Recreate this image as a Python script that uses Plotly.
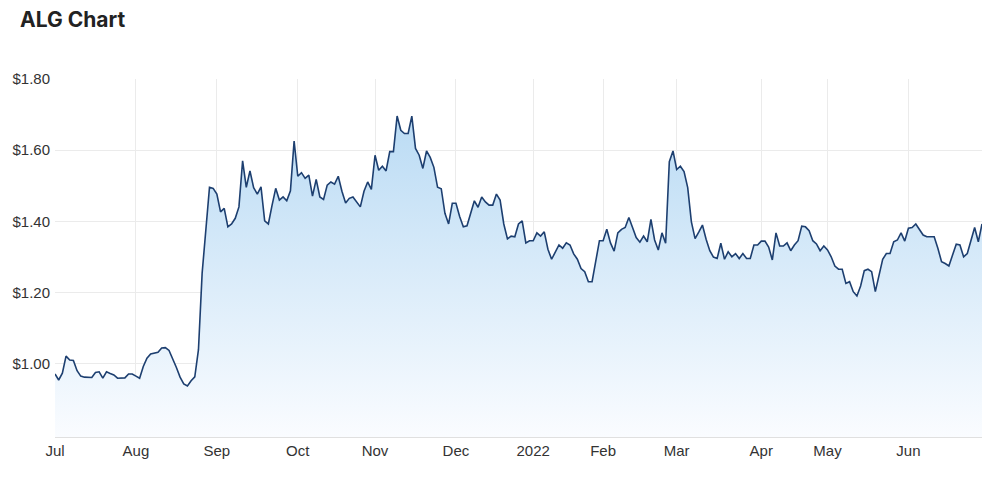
import plotly.graph_objects as go

# Month labels and number of trading days in each month (Jul 2021 - Jun 2022)
month_labels = ["Jul", "Aug", "Sep", "Oct", "Nov", "Dec", "2022", "Feb", "Mar", "Apr", "May", "Jun"]
month_days = [22, 22, 22, 21, 22, 21, 19, 20, 23, 18, 22, 21]

# Daily closing prices (AUD)
prices = [
    0.972, 0.955, 0.974, 1.022, 1.011, 1.010, 0.981, 0.966, 0.963, 0.963,
    0.962, 0.976, 0.978, 0.960, 0.978, 0.973, 0.969, 0.960, 0.960, 0.961,
    0.972, 0.972, 0.966, 0.960, 0.993, 1.016, 1.028, 1.031, 1.033, 1.045,
    1.046, 1.038, 1.015, 0.990, 0.963, 0.944, 0.938, 0.953, 0.964, 1.040,
    1.255, 1.380, 1.496, 1.493, 1.477, 1.427, 1.437, 1.385, 1.393, 1.409,
    1.441, 1.570, 1.496, 1.542, 1.495, 1.477, 1.497, 1.402, 1.393, 1.445,
    1.493, 1.460, 1.469, 1.458, 1.486, 1.626, 1.527, 1.537, 1.521, 1.530,
    1.471, 1.518, 1.469, 1.462, 1.502, 1.511, 1.505, 1.527, 1.485, 1.452,
    1.465, 1.469, 1.455, 1.441, 1.485, 1.511, 1.490, 1.586, 1.544, 1.555,
    1.542, 1.596, 1.596, 1.696, 1.656, 1.647, 1.647, 1.696, 1.605, 1.586,
    1.549, 1.598, 1.580, 1.552, 1.496, 1.492, 1.423, 1.393, 1.451, 1.451,
    1.414, 1.385, 1.388, 1.421, 1.458, 1.440, 1.469, 1.455, 1.446, 1.446,
    1.477, 1.460, 1.393, 1.351, 1.359, 1.357, 1.393, 1.402, 1.340, 1.346,
    1.346, 1.368, 1.359, 1.371, 1.322, 1.294, 1.315, 1.334, 1.325, 1.340,
    1.334, 1.309, 1.294, 1.268, 1.259, 1.231, 1.231, 1.290, 1.346, 1.346,
    1.378, 1.340, 1.317, 1.368, 1.378, 1.383, 1.411, 1.383, 1.355, 1.342,
    1.359, 1.343, 1.406, 1.348, 1.320, 1.368, 1.339, 1.568, 1.598, 1.546,
    1.555, 1.540, 1.495, 1.399, 1.352, 1.370, 1.390, 1.350, 1.318, 1.300,
    1.296, 1.339, 1.294, 1.315, 1.301, 1.310, 1.296, 1.310, 1.296, 1.296,
    1.334, 1.334, 1.345, 1.345, 1.328, 1.292, 1.368, 1.331, 1.331, 1.340,
    1.318, 1.334, 1.346, 1.387, 1.385, 1.374, 1.346, 1.337, 1.318, 1.331,
    1.320, 1.301, 1.275, 1.266, 1.266, 1.226, 1.231, 1.203, 1.191, 1.219,
    1.262, 1.266, 1.259, 1.203, 1.245, 1.294, 1.310, 1.310, 1.343, 1.348,
    1.368, 1.345, 1.381, 1.383, 1.393, 1.378, 1.362, 1.357, 1.357, 1.357,
    1.325, 1.287, 1.282, 1.275, 1.306, 1.336, 1.334, 1.301, 1.310, 1.343,
    1.383, 1.343, 1.393,
]

y_ticks = [1.00, 1.20, 1.40, 1.60, 1.80]
y_tick_labels = ["$1.00", "$1.20", "$1.40", "$1.60", "$1.80"]

x_idx = list(range(len(prices)))
tick_pos = []
acc = 0
for d in month_days:
    tick_pos.append(acc)
    acc += d

fig = go.Figure()
fig.add_trace(go.Scatter(
    x=x_idx, y=prices, mode="lines",
    line=dict(color="#1d3f70", width=1.6),
    fill="tozeroy",
    fillgradient=dict(type="vertical", start=0.795, stop=1.70,
                      colorscale=[[0, "rgba(250,252,255,1)"], [1, "rgba(186,219,244,1)"]]),
    hoverinfo="skip", showlegend=False,
))

fig.update_layout(
    width=1000, height=477,
    margin=dict(l=55, r=18, t=79, b=40),
    paper_bgcolor="white", plot_bgcolor="white",
    title=dict(text="ALG Chart", x=20/1000, xref="container", xanchor="left",
               y=1-20/477, yref="container", yanchor="middle",
               font=dict(family="Inter", size=21, weight=700, color="#222222")),
    xaxis=dict(range=[0, len(prices) - 1], tickvals=tick_pos, ticktext=month_labels,
               showgrid=True, gridcolor="#ebebeb", gridwidth=1,
               showline=True, linecolor="#e0e0e0", linewidth=1, zeroline=False,
               ticks="", tickfont=dict(family="Liberation Sans", size=15, color="#333333"),
               fixedrange=True),
    yaxis=dict(range=[0.795, 1.80], tickvals=y_ticks, ticktext=y_tick_labels,
               showgrid=True, gridcolor="#ebebeb", gridwidth=1, zeroline=False,
               showline=False, ticks="", ticklabelstandoff=4,
               tickfont=dict(family="Liberation Sans", size=15, color="#333333"),
               fixedrange=True),
)

fig.write_html("out.html", config={"displayModeBar": False})
